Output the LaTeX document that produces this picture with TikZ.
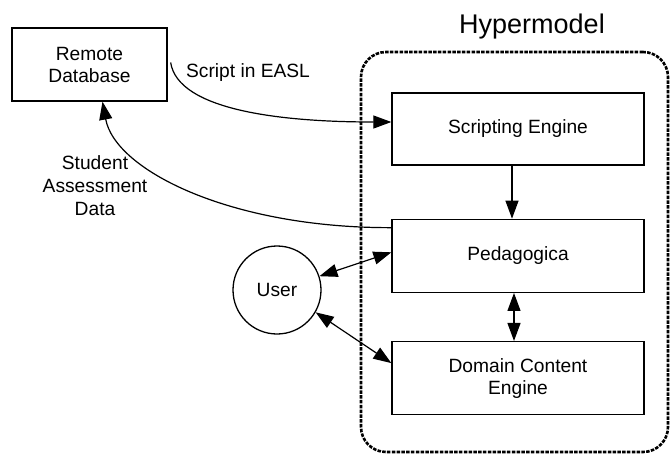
\documentclass[tikz,border=0pt]{standalone}
\usepackage{fontspec}
\setmainfont{Liberation Sans}
\usetikzlibrary{positioning,arrows.meta}

\tikzset{
  block/.style={draw, line width=1.3pt, minimum width=252pt, minimum height=73pt, align=center, font=\fontsize{19.2}{22}\selectfont},
  frame/.style={draw, line width=2.6pt, dash pattern=on 3.5pt off 1.3pt, rounded corners=25pt, minimum width=307pt, minimum height=400pt},
  plain/.style={align=center, font=\fontsize{19.2}{23}\selectfont},
  link/.style={line width=1.2pt}
}

\begin{document}
\begin{tikzpicture}[x=1pt, y=-1pt, >={Triangle[length=18pt,width=13pt]}]
\useasboundingbox (0,0) rectangle (670,456);
\node[frame] (hyper) at (514.5,252) {};
\node[plain, font=\fontsize{27}{30}\selectfont] (title) at (532,27) {Hypermodel};
\node[block, minimum width=155pt] (db) at (89.5,64.5) {Remote\\Database};
\node[block, minimum height=72pt] (script) at (518,129) {Scripting Engine};
\node[block, below=53pt of script] (peda) {Pedagogica};
\node[block, below=48pt of peda] (domain) {Domain Content\\Engine};
\node[draw, circle, line width=1.3pt, minimum size=88pt, plain] (user) at (277,290) {User};
\node[plain] (lblscript) at (248,73) {Script in EASL};
\node[plain] (lbldata) at (95,186) {Student\\Assessment\\Data};
%\node[plain] (lblnet) at (250,420) {};
\draw[link,->] ([xshift=3pt,yshift=2pt]db.east) .. controls (178,110) and (280,122) .. ([yshift=7pt]script.west);
\draw[link,->] ([yshift=-9pt]peda.north west) .. controls (230,228) and (115,170) .. ([xshift=13pt]db.south);
\draw[link,->] ([xshift=-6pt]script.south) -- ([xshift=-6pt]peda.north);
\draw[link,<->] ([xshift=-4pt]peda.south) -- ([xshift=-4pt]domain.north);
\draw[link,<->] (user.18) -- ([yshift=3.5pt]peda.west);
\draw[link,<->] (user.-30) -- ([yshift=15pt]domain.west);
\end{tikzpicture}
\end{document}
